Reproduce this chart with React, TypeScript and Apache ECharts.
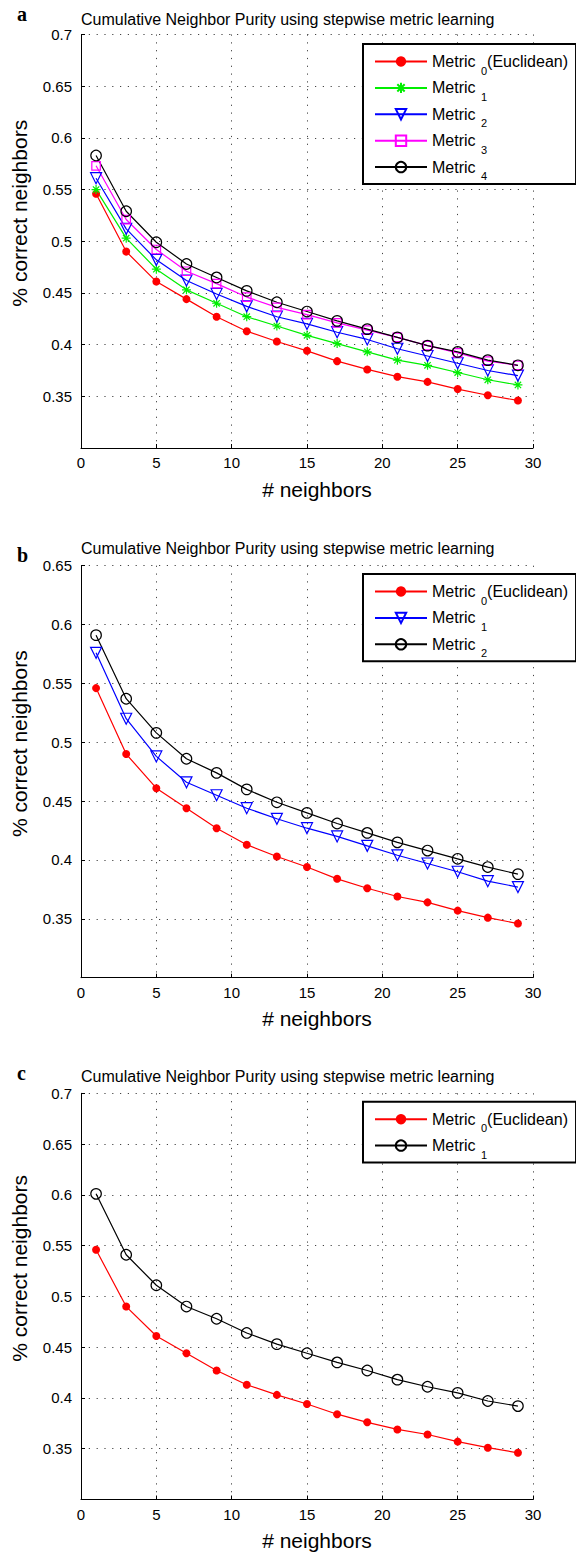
import React, { useEffect, useRef } from 'react';
import * as echarts from 'echarts';

// ---------- data ----------
const TITLE = 'Cumulative Neighbor Purity using stepwise metric learning';
const X_NAME = '# neighbors';
const Y_NAME = '% correct neighbors';
const neighbors = [1, 3, 5, 7, 9, 11, 13, 15, 17, 19, 21, 23, 25, 27, 29];
const xTicks = [0, 5, 10, 15, 20, 25, 30];

// Metric 0 (Euclidean) – identical in all panels
const euclidean = [0.546, 0.49, 0.461, 0.444, 0.427, 0.413, 0.403, 0.394, 0.384, 0.376, 0.369, 0.364, 0.357, 0.351, 0.346];

// panel a
const aMetric1 = [0.55, 0.503, 0.473, 0.453, 0.44, 0.427, 0.418, 0.409, 0.401, 0.393, 0.385, 0.38, 0.373, 0.366, 0.361];
const aMetric2 = [0.561, 0.512, 0.482, 0.462, 0.449, 0.437, 0.427, 0.42, 0.412, 0.405, 0.396, 0.389, 0.382, 0.375, 0.37];
const aMetric3 = [0.573, 0.521, 0.492, 0.471, 0.459, 0.446, 0.436, 0.429, 0.421, 0.414, 0.407, 0.399, 0.392, 0.384, 0.38];
const aMetric4 = [0.583, 0.529, 0.499, 0.478, 0.465, 0.452, 0.441, 0.432, 0.423, 0.415, 0.407, 0.399, 0.393, 0.385, 0.38];

// panel b
const bMetric1 = [0.576, 0.52, 0.488, 0.466, 0.455, 0.444, 0.435, 0.427, 0.42, 0.412, 0.404, 0.397, 0.39, 0.382, 0.377];
const bMetric2 = [0.591, 0.537, 0.508, 0.486, 0.474, 0.46, 0.449, 0.44, 0.431, 0.423, 0.415, 0.408, 0.401, 0.394, 0.388];

// panel c
const cMetric1 = [0.601, 0.541, 0.511, 0.49, 0.478, 0.464, 0.453, 0.444, 0.435, 0.427, 0.418, 0.411, 0.405, 0.397, 0.392];

const yMin = 0.3;
const yStep = 0.05;
const yMaxA = 0.7;
const yMaxB = 0.65;
const yMaxC = 0.7;

// ---------- styles ----------
const FONT = '"Liberation Sans", Arial, Helvetica, sans-serif';
const SERIF = '"Liberation Serif", "Times New Roman", serif';
const ASTERISK = 'path://M0,-10L0,10M-10,0L10,0M-7.07,-7.07L7.07,7.07M-7.07,7.07L7.07,-7.07';

type Mark = { color: string; symbol: string; size: number; rotate?: number; filled?: boolean };
const RED: Mark = { color: '#ff0000', symbol: 'circle', size: 8, filled: true };
const GREEN: Mark = { color: '#00ee00', symbol: ASTERISK, size: 9 };
const BLUE: Mark = { color: '#0000ff', symbol: 'triangle', size: 11, rotate: 180 };
const MAGENTA: Mark = { color: '#ff00ff', symbol: 'rect', size: 8.5 };
const BLACK: Mark = { color: '#000000', symbol: 'circle', size: 10.5 };

type SeriesDef = { sub: string; suffix: string; values: number[]; mark: Mark };
type Panel = {
  letter: string;
  letterTop: number;
  titleTop: number;
  gridTop: number;
  gridHeight: number;
  yMax: number;
  legendTop: number;
  divTop: number;
  divHeight: number;
  series: SeriesDef[];
};

const panels: Panel[] = [
  {
    letter: 'a', letterTop: 4, titleTop: 11, gridTop: 34.5, gridHeight: 413.5, yMax: yMaxA, legendTop: 44,
    divTop: 0, divHeight: 525,
    series: [
      { sub: '0', suffix: '(Euclidean)', values: euclidean, mark: RED },
      { sub: '1', suffix: '', values: aMetric1, mark: GREEN },
      { sub: '2', suffix: '', values: aMetric2, mark: BLUE },
      { sub: '3', suffix: '', values: aMetric3, mark: MAGENTA },
      { sub: '4', suffix: '', values: aMetric4, mark: BLACK },
    ],
  },
  {
    letter: 'b', letterTop: 20, titleTop: 15, gridTop: 40.7, gridHeight: 412, yMax: yMaxB, legendTop: 49,
    divTop: 525, divHeight: 520,
    series: [
      { sub: '0', suffix: '(Euclidean)', values: euclidean, mark: RED },
      { sub: '1', suffix: '', values: bMetric1, mark: BLUE },
      { sub: '2', suffix: '', values: bMetric2, mark: BLACK },
    ],
  },
  {
    letter: 'c', letterTop: 17.5, titleTop: 23, gridTop: 48.3, gridHeight: 412.4, yMax: yMaxC, legendTop: 56.7,
    divTop: 1045, divHeight: 511,
    series: [
      { sub: '0', suffix: '(Euclidean)', values: euclidean, mark: RED },
      { sub: '1', suffix: '', values: cMetric1, mark: BLACK },
    ],
  },
];

function buildOption(p: Panel) {
  const labelMap: Record<string, string> = {};
  const series = p.series.map((s) => {
    const name = 'Metric ' + s.sub;
    labelMap[name] = 'Metric {s|' + s.sub + '}' + s.suffix;
    return {
      type: 'line',
      name,
      data: s.values.map((v, i) => [neighbors[i], v]),
      symbol: s.mark.symbol,
      symbolSize: s.mark.size,
      symbolRotate: s.mark.rotate || 0,
      showSymbol: true,
      lineStyle: { color: s.mark.color, width: 1.2 },
      itemStyle: {
        color: s.mark.filled ? s.mark.color : 'transparent',
        borderColor: s.mark.color,
        borderWidth: s.mark.filled ? 0 : 1.2,
      },
      emphasis: { disabled: true },
      z: 3,
    };
  });
  const grid = '#444';
  return {
    animation: false,
    backgroundColor: '#ffffff',
    title: [
      {
        text: p.letter, left: 17, top: p.letterTop, padding: 0,
        textStyle: { fontFamily: SERIF, fontWeight: 'bold', fontSize: 20, color: '#000' },
      },
      {
        text: TITLE, left: 81, top: p.titleTop, padding: 0,
        textStyle: { fontFamily: FONT, fontWeight: 'normal', fontSize: 16, color: '#000' },
      },
    ],
    legend: {
      orient: 'vertical',
      left: 363,
      top: p.legendTop,
      padding: [3, 8, 2.5, 11],
      itemWidth: 52,
      itemHeight: 13,
      itemGap: -2.6,
      borderColor: '#000',
      borderWidth: 2,
      backgroundColor: '#fff',
      selectedMode: false,
      formatter: (name: string) => labelMap[name] || name,
      textStyle: {
        fontFamily: FONT, fontSize: 16, color: '#000', lineHeight: 16,
        rich: { s: { fontFamily: FONT, fontSize: 11, color: '#000', lineHeight: 12, padding: [18, 0, 0, 1] } },
      },
      data: series.map((s) => s.name),
    },
    grid: { left: 81, top: p.gridTop, width: 452, height: p.gridHeight, containLabel: false },
    xAxis: {
      type: 'value',
      min: xTicks[0],
      max: xTicks[xTicks.length - 1],
      interval: xTicks[1] - xTicks[0],
      name: X_NAME,
      nameLocation: 'middle',
      nameGap: 30.5,
      nameTextStyle: { fontFamily: FONT, fontSize: 21, color: '#000', padding: [0, 0, 0, 20] },
      axisLine: { show: true, onZero: false, lineStyle: { color: '#000', width: 1 } },
      axisTick: { show: true, inside: true, length: 4, lineStyle: { color: '#000' } },
      axisLabel: { fontFamily: FONT, fontSize: 15, color: '#000', margin: 7 },
      splitLine: { show: true, lineStyle: { color: grid, width: 1, type: [1.2, 6.6] } },
    },
    yAxis: {
      type: 'value',
      min: yMin,
      max: p.yMax,
      interval: yStep,
      name: Y_NAME,
      nameLocation: 'middle',
      nameGap: 51,
      nameRotate: 90,
      nameTextStyle: { fontFamily: FONT, fontSize: 21, color: '#000', padding: [0, 0, 0, 56] },
      axisLine: { show: true, onZero: false, lineStyle: { color: '#000', width: 1 } },
      axisTick: { show: true, inside: true, length: 4, lineStyle: { color: '#000' } },
      axisLabel: {
        fontFamily: FONT, fontSize: 15, color: '#000', margin: 9, showMinLabel: false,
        formatter: (v: number) => String(Number(v.toFixed(2))),
      },
      splitLine: { show: true, lineStyle: { color: grid, width: 1, type: [1.2, 6.6] } },
    },
    series,
  };
}

function ChartPanel({ panel }: { panel: Panel }) {
  const ref = useRef<HTMLDivElement>(null);
  useEffect(() => {
    if (!ref.current) return;
    const chart = echarts.init(ref.current, undefined, { renderer: 'svg' });
    chart.setOption(buildOption(panel) as any);
    return () => chart.dispose();
  }, [panel]);
  return (
    <div
      ref={ref}
      style={{ position: 'absolute', left: 0, top: panel.divTop, width: 576, height: panel.divHeight }}
    />
  );
}

export default function App() {
  useEffect(() => {
    document.body.style.margin = '0';
    document.body.style.background = '#fff';
  }, []);
  return (
    <div style={{ position: 'relative', width: 576, height: 1556, background: '#fff', overflow: 'hidden' }}>
      {panels.map((p) => (
        <ChartPanel key={p.letter} panel={p} />
      ))}
    </div>
  );
}
